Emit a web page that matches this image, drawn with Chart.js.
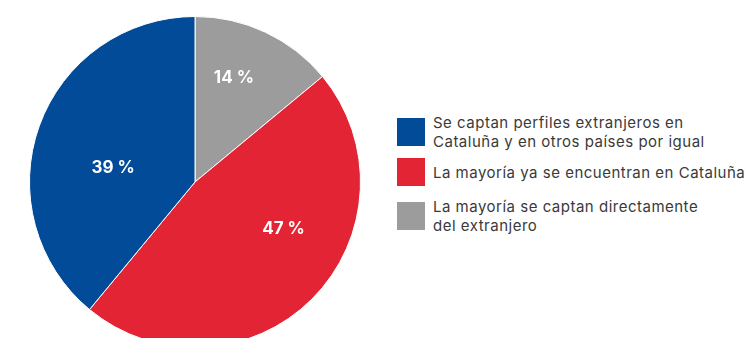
<!DOCTYPE html>
<html>
<head>
<meta charset="utf-8">
<script src="https://cdn.jsdelivr.net/npm/chart.js@4"></script>
<style>
  html, body { margin: 0; padding: 0; background: #fff; overflow: hidden; width: 747px; height: 338px; }
  #wrap { position: absolute; left: 0; top: 0; width: 390px; height: 364px; }
  .row { position: absolute; left: 397px; display: flex; align-items: center; }
  .box { width: 28px; height: 28px; flex: none; }
  .txt { margin-left: 8px; font-family: Inter, "Noto Sans", sans-serif; font-size: 15px; letter-spacing: 0.5px; line-height: 19px; color: #3a3a3a; white-space: nowrap; }
</style>
</head>
<body>
<div id="wrap"><canvas id="c" width="390" height="364"></canvas></div>
<div id="legend"></div>
<script>
// Data in drawing order (clockwise from 12 o'clock)
const categories = [
  "La mayoría se captan directamente del extranjero",
  "La mayoría ya se encuentran en Cataluña",
  "Se captan perfiles extranjeros en Cataluña y en otros países por igual"
];
const values = [14, 47, 39];
const valueLabels = ["14 %", "47 %", "39 %"];
const colors = ["#9c9c9c", "#e22434", "#014b98"];

// Legend order and line wrapping as shown
const legendOrder = [2, 1, 0];
const legendLines = [
  ["La mayoría se captan directamente", "del extranjero"],
  ["La mayoría ya se encuentran en Cataluña"],
  ["Se captan perfiles extranjeros en", "Cataluña y en otros países por igual"]
];
const legendTops = [113, 158, 196.5];

// label offsets relative to radius (x, y)
const labelOffsets = [[0.235, -0.63], [0.535, 0.283], [-0.495, -0.088]];

const labelPlugin = {
  id: 'pctLabels',
  afterDatasetsDraw(chart) {
    const ctx = chart.ctx;
    const meta = chart.getDatasetMeta(0);
    ctx.save();
    ctx.fillStyle = '#ffffff';
    ctx.font = 'bold 17px Inter, "Noto Sans", sans-serif';
    ctx.textAlign = 'center';
    ctx.textBaseline = 'middle';
    meta.data.forEach((arc, i) => {
      const r = arc.outerRadius;
      ctx.fillText(valueLabels[i], arc.x + labelOffsets[i][0] * r, arc.y + labelOffsets[i][1] * r);
    });
    ctx.restore();
  }
};

new Chart(document.getElementById('c'), {
  type: 'pie',
  data: {
    labels: categories,
    datasets: [{
      data: values,
      backgroundColor: colors,
      borderColor: '#ffffff',
      borderWidth: 1
    }]
  },
  options: {
    responsive: false,
    animation: false,
    events: [],
    layout: { padding: { left: 29, right: 29, top: 16, bottom: 16 } },
    plugins: { legend: { display: false }, tooltip: { enabled: false } }
  },
  plugins: [labelPlugin]
});

const legend = document.getElementById('legend');
legendOrder.forEach((idx, k) => {
  const row = document.createElement('div');
  row.className = 'row';
  row.style.top = legendTops[k] + 'px';
  const box = document.createElement('div');
  box.className = 'box';
  box.style.background = colors[idx];
  const txt = document.createElement('div');
  txt.className = 'txt';
  txt.innerHTML = legendLines[idx].join('<br>');
  row.appendChild(box);
  row.appendChild(txt);
  legend.appendChild(row);
});
</script>
</body>
</html>
